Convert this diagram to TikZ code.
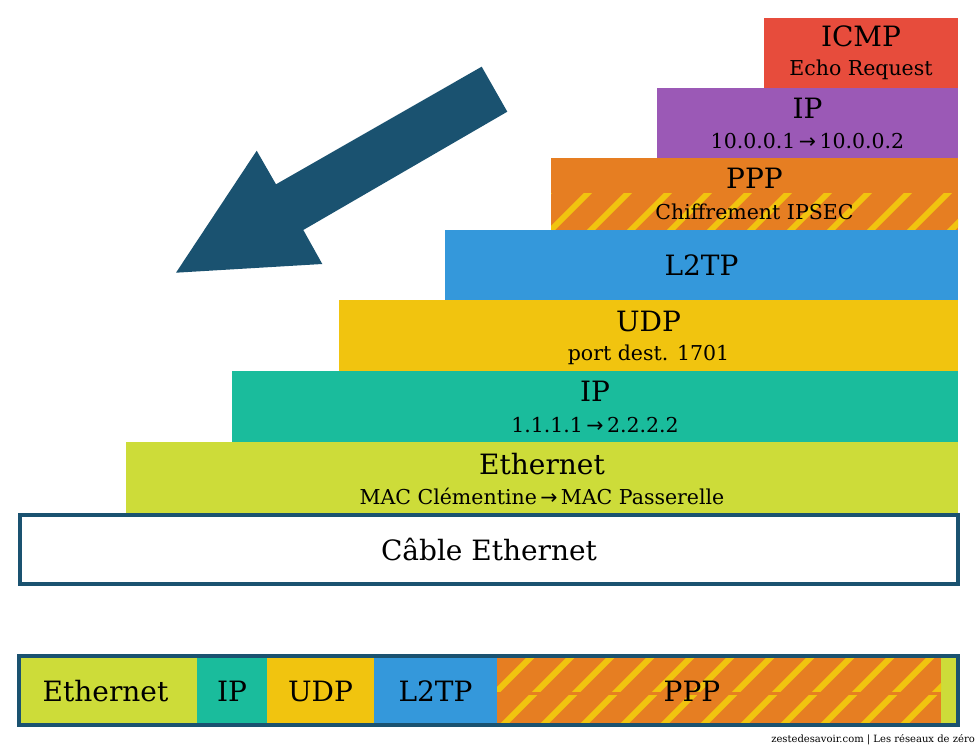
\documentclass[tikz,border=0pt]{standalone}
\usepackage{fontspec}
\setmainfont{DejaVu Serif}
\newfontfamily\arrowfont{DejaVu Sans}
\newcommand{\myarr}{{\arrowfont\symbol{"2192}}}
\usetikzlibrary{calc}
\definecolor{cred}{HTML}{E74C3C}
\definecolor{cpurple}{HTML}{9B59B6}
\definecolor{corange}{HTML}{E67E22}
\definecolor{cblue}{HTML}{3498DB}
\definecolor{cyellow}{HTML}{F1C40F}
\definecolor{cteal}{HTML}{1ABC9C}
\definecolor{clime}{HTML}{CDDC39}
\definecolor{cdark}{HTML}{1A5270}
\begin{document}
\begin{tikzpicture}[x=1pt,y=-1pt,
  layer/.style={draw=none, inner sep=0, outer sep=0, anchor=north west},
  ttl/.style={font=\fontsize{28}{28}\selectfont, anchor=base, inner sep=0},
  sub/.style={font=\fontsize{20.5}{20.5}\selectfont, anchor=base, inner sep=0},
  seg/.style={draw=none, inner sep=0, outer sep=0, anchor=north west, minimum height=67},
  stripe/.style={draw=cyellow, line width=6pt},
  frame/.style={draw=cdark, line width=3.5pt}]
\useasboundingbox (0,0) rectangle (978,746);

% arrow
\fill[cdark] (481.7,66.7) -- (507.3,111.7) -- (303.3,230) -- (322.3,264) -- (176,272.7) -- (256.7,150.7) -- (276,184.3) -- cycle;

% stack
\node[layer, fill=cred, minimum width=194, minimum height=70] (icmp) at (764,18) {};
\node[layer, fill=cpurple, minimum width=301, minimum height=70] (ipb) at (657,88) {};
\node[layer, fill=corange, minimum width=407, minimum height=72] (ppp) at (551,158) {};
\begin{scope}
  \clip (551,194) rectangle (958,230);
  \foreach \x in {511,551,...,991} \draw[stripe] (\x-12,242) -- ++(60,-60);
\end{scope}
\node[layer, fill=cblue, minimum width=513, minimum height=70] (l2tp) at (445,230) {};
\node[layer, fill=cyellow, minimum width=619, minimum height=71] (udp) at (339,300) {};
\node[layer, fill=cteal, minimum width=726, minimum height=71] (ipa) at (232,371) {};
\node[layer, fill=clime, minimum width=832, minimum height=71] (eth) at (126,442) {};
\node[layer, frame, fill=white, minimum width=938, minimum height=69] (cable) at (20,515) {};

\node[ttl] (icmpT) at ($(icmp.north)+(0,29)$) {ICMP};
\node[sub] (icmpS) at ($(icmp.north)+(0,58)$) {Echo Request};
\node[ttl] (ipbT) at ($(ipb.north)+(0,31)$) {IP};
\node[sub] (ipbS) at ($(ipb.north)+(0,61)$) {10.0.0.1\,\myarr\,10.0.0.2};
\node[ttl] (pppT) at ($(ppp.north)+(0,31)$) {PPP};
\node[sub] (pppS) at ($(ppp.north)+(0,62)$) {Chiffrement IPSEC};
\node[ttl] (l2tpT) at ($(l2tp.north)+(0,46)$) {L2TP};
\node[ttl] (udpT) at ($(udp.north)+(0,31)$) {UDP};
\node[sub] (udpS) at ($(udp.north)+(0,60)$) {port dest. 1701};
\node[ttl] (ipaT) at ($(ipa.north)+(0,30)$) {IP};
\node[sub] (ipaS) at ($(ipa.north)+(0,61)$) {1.1.1.1\,\myarr\,2.2.2.2};
\node[ttl] (ethT) at ($(eth.north)+(0,32)$) {Ethernet};
\node[sub] (ethS) at ($(eth.north)+(0,62)$) {MAC Clémentine\,\myarr\,MAC Passerelle};
\node[ttl] (cableT) at ($(cable.center)+(0,11)$) {Câble Ethernet};

% bottom bar
\node[seg, fill=clime, minimum width=177] (bEth) at (20,657) {};
\node[seg, fill=cteal, minimum width=70] (bIp) at (197,657) {};
\node[seg, fill=cyellow, minimum width=107] (bUdp) at (267,657) {};
\node[seg, fill=cblue, minimum width=123] (bL2tp) at (374,657) {};
\node[seg, fill=corange, minimum width=444] (bPpp) at (497,657) {};
\node[seg, fill=clime, minimum width=17] (bEnd) at (941,657) {};
\begin{scope}
  \clip (497,657) rectangle (941,691);
  \foreach \x in {418,458,...,998} \draw[stripe] (\x,730) -- ++(80,-80);
\end{scope}
\begin{scope}
  \clip (497,695) rectangle (941,724);
  \foreach \x in {418,458,...,998} \draw[stripe] (\x,730) -- ++(80,-80);
\end{scope}
\draw[frame] (19,656) rectangle (958,725);
\node[ttl] (bEthT) at ($(bEth.center)+(-3,11)$) {Ethernet};
\node[ttl] (bIpT) at ($(bIp.center)+(0,11)$) {IP};
\node[ttl] (bUdpT) at ($(bUdp.center)+(0,11)$) {UDP};
\node[ttl] (bL2tpT) at ($(bL2tp.center)+(0,11)$) {L2TP};
\node[ttl] (bPppT) at ($(bPpp.center)+(-27,11)$) {PPP};

\node[font=\fontsize{10}{10}\selectfont, anchor=base east, inner sep=0] (foot) at (975,742) {zestedesavoir.com | Les réseaux de zéro};
\end{tikzpicture}
\end{document}
